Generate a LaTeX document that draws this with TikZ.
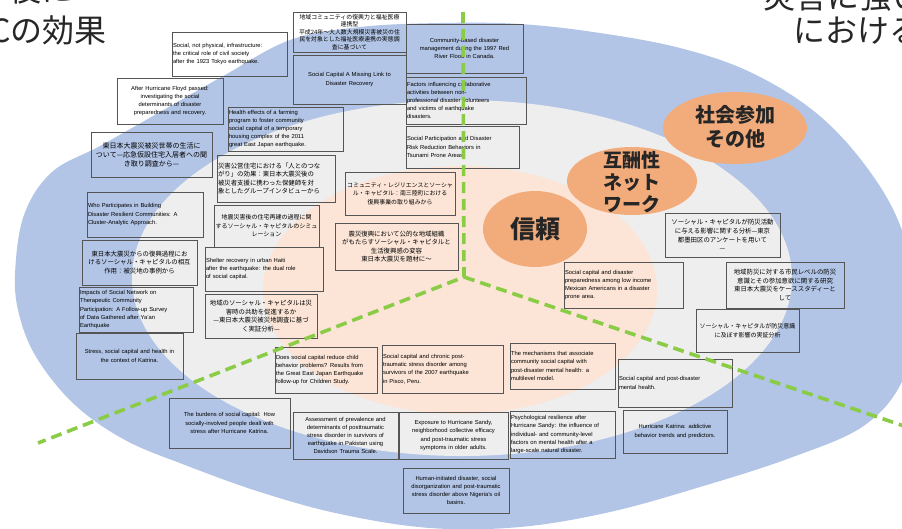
\documentclass[tikz,border=0pt]{standalone}
\usepackage{fontspec}
\setmainfont{Liberation Sans}
\newfontfamily\cjk{Noto Sans CJK JP}
\usetikzlibrary{positioning}
\definecolor{outerblue}{RGB}{178,197,230}
\definecolor{innergray}{RGB}{238,238,238}
\definecolor{corepeach}{RGB}{252,229,214}
\definecolor{traitorange}{RGB}{242,172,124}
\definecolor{splitgreen}{RGB}{138,204,70}
\definecolor{boxline}{RGB}{85,85,85}

\begin{document}
\begin{tikzpicture}[x=1pt,y=-1pt,
  paper/.style={draw=boxline,line width=0.9pt,inner sep=1pt,font=\fontsize{5.8}{8.2}\selectfont,align=left},
  paperjp/.style={paper,font=\cjk\fontsize{6.4}{8.6}\selectfont,align=center},
  trait/.style={font=\cjk\bfseries\fontsize{19}{22}\selectfont,text=black!85,align=center},
  corner/.style={font=\cjk\fontsize{32}{32}\selectfont,text=black!85,inner sep=0pt},
  divider/.style={draw=splitgreen,line width=3.6pt,dash pattern=on 11pt off 6pt}]

\useasboundingbox (0,0) rectangle (902,528);
\clip (0,0) rectangle (902,528);

\fill[outerblue] plot[smooth cycle,tension=0.6] coordinates {
  (15,275) (24,215) (52,172) (100,146) (160,112) (225,75) (290,40) (360,27)
  (440,23) (520,24) (600,33) (680,48) (750,72) (815,112) (865,165) (900,225)
  (918,300) (905,375) (865,425) (790,458) (700,487) (610,512) (520,527)
  (430,528) (340,514) (260,492) (185,465) (125,440) (75,405) (38,360) (20,318)};
\fill[innergray] (462,278) ellipse [x radius=330,y radius=178];
\fill[corepeach] (460,290) ellipse [x radius=197,y radius=124];

\fill[traitorange] (535,229) ellipse [x radius=52,y radius=38];
\node[trait,font=\cjk\bfseries\fontsize{25}{25}\selectfont] (trust) at (535,229) {信頼};
\fill[traitorange] (632,181) ellipse [x radius=65,y radius=34];
\node[trait] (recip) at (632,182) {互酬性\\ネット\\ワーク};
\fill[traitorange] (735,128) ellipse [x radius=72,y radius=36];
\node[trait,font=\cjk\bfseries\fontsize{20}{24}\selectfont] (civic) at (735,127) {社会参加\\その他};

\node[paperjp,text width=111pt,minimum height=40pt,font=\cjk\fontsize{5.9}{7.4}\selectfont] (p1) at (349.5,32)
  {地域コミュニティの復興力と福祉医療\\連携型\\平成24年～大人数大規模災害被災の住\\民を対象とした福祉医療連携の実態調\\査に基づいて};
\node[paper,text width=111pt,minimum height=49pt,align=center] (p2) at (349.5,79.5)
  {Social Capital A Missing Link to\\Disaster Recovery};
\node[paper,text width=113pt,minimum height=44pt] (p3) at (229.5,54)
  {Social, not physical, infrastructure:\\the critical role of civil society\\after the 1923 Tokyo earthquake.};
\node[paper,text width=104pt,minimum height=46pt,align=center] (p4) at (170,101)
  {After Hurricane Floyd passed:\\investigating the social\\determinants of disaster\\preparedness and recovery.};
\node[paperjp,text width=119pt,minimum height=45pt,font=\cjk\fontsize{7}{9}\selectfont] (p5) at (151.5,154.5)
  {東日本大震災被災世帯の生活に\\ついて—応急仮設住宅入居者への聞\\き取り調査から—};
\node[paper,text width=113pt,minimum height=44pt] (p6) at (285.5,129)
  {Health effects of a farming\\program to foster community\\social capital of a temporary\\housing complex of the 2011\\great East Japan earthquake.};
\node[paperjp,text width=116pt,minimum height=47pt,align=left] (p7) at (276,178.5)
  {災害公営住宅における「人とのつな\\がり」の効果：東日本大震災後の\\被災者支援に携わった保健師を対\\象としたグループインタビューから};
\node[paper,text width=115pt,minimum height=49pt,align=center] (p8) at (464.5,48.5)
  {Community-based disaster\\management during the 1997 Red\\River Flood in Canada.};
\node[paper,text width=118pt,minimum height=47pt] (p9) at (466,100.5)
  {Factors influencing collaborative\\activities between non-\\professional disaster volunteers\\and victims of earthquake\\disasters.};
\node[paper,text width=111pt,minimum height=42pt] (p10) at (462.5,147)
  {Social Participation and Disaster\\Risk Reduction Behaviors in\\Tsunami Prone Areas.};
\node[paper,text width=114pt,minimum height=45pt] (p11) at (145,214.5)
  {Who Participates in Building\\Disaster Resilient Communities: A\\Cluster-Analytic Approach.};
\node[paperjp,text width=103pt,minimum height=42pt,font=\cjk\fontsize{6}{8.6}\selectfont] (p12) at (266.5,226)
  {地震災害後の住宅再建の過程に関\\するソーシャル・キャピタルのシミュ\\レーション};
\node[paperjp,text width=108pt,minimum height=43pt,font=\cjk\fontsize{5.9}{8.6}\selectfont] (p13) at (400,193.5)
  {コミュニティ・レジリエンスとソーシャ\\ル・キャピタル：南三陸町における\\復興事業の取り組みから};
\node[paperjp,text width=121pt,minimum height=47pt] (p14) at (396.5,246.5)
  {震災復興において公的な地域組織\\がもたらすソーシャル・キャピタルと\\生活復興感の変容\\東日本大震災を題材に〜};
\node[paperjp,text width=113pt,minimum height=45pt] (p15) at (139.5,262.5)
  {東日本大震災からの復興過程にお\\けるソーシャル・キャピタルの相互\\作用：被災地の事例から};
\node[paper,text width=116pt,minimum height=44pt] (p16) at (264,269)
  {Shelter recovery in urban Haiti\\after the earthquake: the dual role\\of social capital.};
\node[paper,text width=112pt,minimum height=45pt] (p17) at (136,309.5)
  {Impacts of Social Network on\\Therapeutic Community\\Participation: A Follow-up Survey\\of Data Gathered after Ya'an\\Earthquake};
\node[paperjp,text width=110pt,minimum height=44pt] (p18) at (261,316)
  {地域のソーシャル・キャピタルは災\\害時の共助を促進するか\\—東日本大震災被災地調査に基づ\\く実証分析—};
\node[paper,text width=105pt,minimum height=46pt,align=center] (p19) at (129.5,356)
  {Stress, social capital and health in\\the context of Katrina.};
\node[paper,text width=100pt,minimum height=46pt] (p20) at (326,370)
  {Does social capital reduce child\\behavior problems? Results from\\the Great East Japan Earthquake\\follow-up for Children Study.};
\node[paper,text width=119pt,minimum height=48pt] (p21) at (442.5,369)
  {Social capital and chronic post-\\traumatic stress disorder among\\survivors of the 2007 earthquake\\in Pisco, Peru.};
\node[paper,text width=103pt,minimum height=46pt] (p22) at (562.5,366)
  {The mechanisms that associate\\community social capital with\\post-disaster mental health: a\\multilevel model.};
\node[paper,text width=117pt,minimum height=46pt] (p23) at (623.5,285)
  {Social capital and disaster\\preparedness among low income\\Mexican Americans in a disaster\\prone area.};
\node[paperjp,text width=113pt,minimum height=44pt] (p24) at (722.5,235)
  {ソーシャル・キャピタルが防災活動\\に与える影響に関する分析—東京\\都墨田区のアンケートを用いて\\—};
\node[paperjp,text width=116pt,minimum height=46pt] (p25) at (785,285)
  {地域防災に対する市民レベルの防災\\意識とその参加意欲に関する研究\\東日本大震災をケーススタディーと\\して};
\node[paperjp,text width=101pt,minimum height=43pt,font=\cjk\fontsize{6}{8.6}\selectfont] (p26) at (747.5,330.5)
  {ソーシャル・キャピタルが防災意識\\に及ぼす影響の実証分析};
\node[paper,text width=112pt,minimum height=48pt] (p27) at (675,383)
  {Social capital and post-disaster\\mental health.};
\node[paper,text width=119pt,minimum height=50pt,align=center] (p28) at (229.5,423)
  {The burdens of social capital: How\\socially-involved people dealt with\\stress after Hurricane Katrina.};
\node[paper,text width=103pt,minimum height=47pt,align=center] (p29) at (345.5,435.5)
  {Assessment of prevalence and\\determinants of posttraumatic\\stress disorder in survivors of\\earthquake in Pakistan using\\Davidson Trauma Scale.};
\node[paper,text width=107pt,minimum height=47pt,align=center] (p30) at (453.5,435.5)
  {Exposure to Hurricane Sandy,\\neighborhood collective efficacy\\and post-traumatic stress\\symptoms in older adults.};
\node[paper,text width=103pt,minimum height=47pt] (p31) at (562.5,434.5)
  {Psychological resilience after\\Hurricane Sandy: the influence of\\individual- and community-level\\factors on mental health after a\\large-scale natural disaster.};
\node[paper,text width=102pt,minimum height=43pt,align=center] (p32) at (675,431.5)
  {Hurricane Katrina: addictive\\behavior trends and predictors.};
\node[paper,text width=104pt,minimum height=45pt,align=center] (p33) at (456,490.5)
  {Human-initiated disaster, social\\disorganization and post-traumatic\\stress disorder above Nigeria's oil\\basins.};

\coordinate (hub) at (464,277);
\coordinate (up) at (463,12);
\coordinate (sw) at (38,443);
\coordinate (se) at (910,428);
\draw[divider] (up) -- (hub) -- (sw);
\draw[divider] (hub) -- (se);

\node[corner,anchor=base east] (t1) at (74,1) {後に};
\node[corner,anchor=base east] (t2) at (107,42) {Cの効果};
\node[corner,anchor=base west] (t3) at (763,8) {災害に強い};
\node[corner,anchor=base west] (t4) at (793,42) {における};
\end{tikzpicture}
\end{document}
